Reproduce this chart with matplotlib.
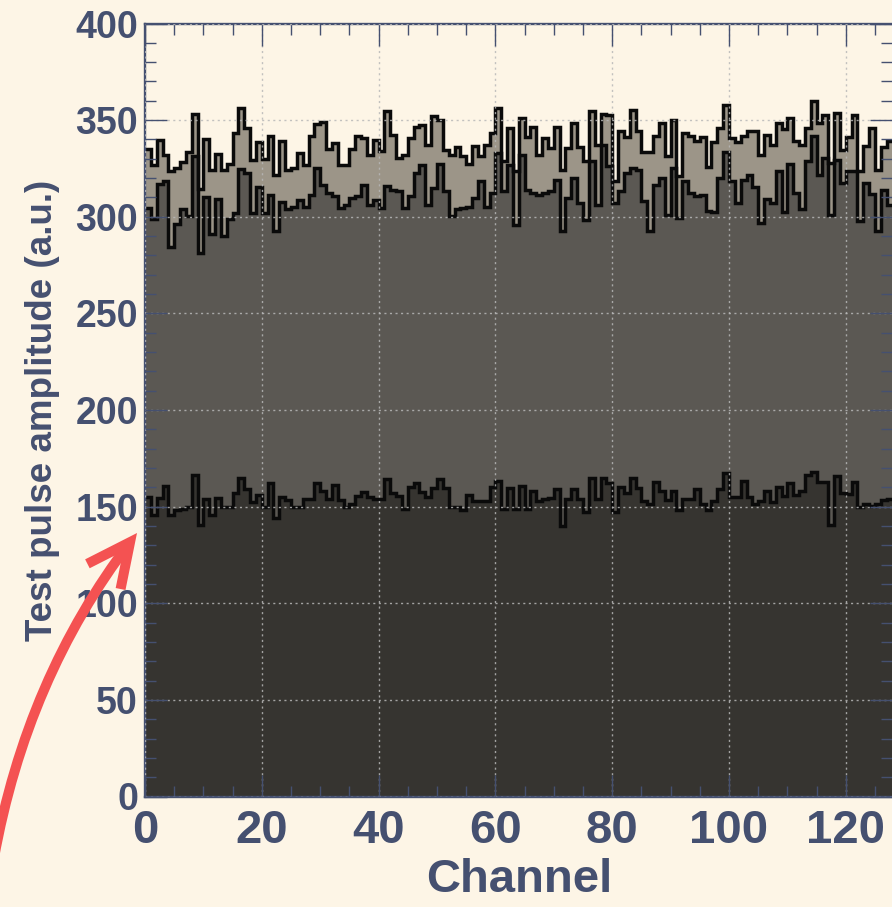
import numpy as np
import matplotlib
matplotlib.use("Agg")
import matplotlib.pyplot as plt
from matplotlib.patches import FancyArrowPatch, ArrowStyle
from matplotlib.ticker import MultipleLocator, FixedLocator

# ---------------- data ----------------
top_amp = [
    334.8, 326.7, 339.6, 331.8, 323.5, 325.3, 328.2, 333.4, 353.4, 314.5,
    340.3, 324.1, 332.7, 324.1, 327.5, 343.4, 356.4, 346.0, 329.2, 338.6,
    330.0, 341.7, 321.8, 339.4, 324.4, 325.3, 333.1, 327.0, 342.0, 348.0,
    349.0, 335.0, 338.0, 327.0, 327.0, 335.0, 342.0, 341.0, 332.0, 339.5,
    334.0, 354.6, 342.5, 330.4, 332.0, 341.0, 346.3, 347.3, 337.0, 352.3,
    350.2, 334.7, 332.0, 335.9, 331.2, 327.3, 336.4, 331.2, 337.3, 343.3,
    356.3, 328.7, 346.0, 323.5, 351.0, 341.1, 346.5, 332.1, 340.7, 335.6,
    346.5, 324.3, 335.6, 348.5, 335.9, 329.0, 354.6, 337.3, 353.4, 352.8,
    318.3, 344.6, 341.1, 355.4, 344.2, 333.5, 333.5, 341.6, 348.5, 331.2,
    350.2, 320.9, 343.3, 341.6, 339.0, 341.1, 325.6, 338.7, 346.0, 357.7,
    340.7, 338.7, 341.6, 344.6, 344.6, 332.1, 342.5, 337.3, 348.5, 345.6,
    351.1, 339.4, 337.3, 345.9, 359.7, 348.5, 352.5, 327.8, 353.7, 334.7,
    341.1, 352.5, 323.5, 336.4, 345.9, 324.3, 335.9, 339.4,
]

mid_amp = [
    304.6, 298.6, 316.7, 318.4, 284.4, 296.0, 304.1, 300.3, 331.3, 281.3,
    310.3, 291.3, 309.2, 290.0, 298.6, 302.1, 324.5, 322.8, 302.1, 315.5,
    302.1, 311.0, 292.5, 307.5, 304.1, 305.1, 308.9, 305.3, 311.4, 325.2,
    316.6, 312.3, 310.5, 304.5, 306.2, 309.7, 310.5, 316.2, 306.2, 308.8,
    304.5, 315.7, 314.0, 313.1, 304.5, 310.5, 322.6, 326.6, 306.2, 314.8,
    327.3, 313.1, 300.2, 304.1, 304.5, 305.3, 309.7, 318.3, 305.3, 312.3,
    333.0, 313.1, 326.9, 295.8, 332.1, 314.0, 312.3, 311.1, 312.3, 313.1,
    319.2, 292.4, 309.7, 320.0, 307.1, 298.4, 328.7, 306.2, 337.3, 326.1,
    307.1, 313.1, 322.6, 325.2, 324.3, 307.9, 292.4, 316.6, 320.0, 301.0,
    325.2, 299.3, 318.3, 312.3, 310.5, 311.4, 302.8, 302.4, 320.0, 333.5,
    318.3, 307.1, 319.2, 321.4, 315.2, 296.7, 309.3, 307.1, 323.5, 302.4,
    327.3, 312.3, 304.1, 328.7, 341.6, 321.8, 330.4, 301.0, 329.5, 317.4,
    323.5, 323.5, 297.6, 317.4, 311.7, 292.4, 314.0, 306.2,
]

low_amp = [
    155.1, 145.9, 154.6, 160.8, 145.9, 148.2, 149.0, 149.9, 166.3, 140.4,
    154.2, 145.6, 154.7, 149.9, 149.9, 156.8, 164.9, 159.1, 152.5, 156.0,
    149.9, 162.0, 143.9, 155.1, 153.4, 149.9, 149.9, 154.2, 154.2, 162.0,
    158.0, 154.2, 161.1, 153.4, 149.9, 151.6, 155.6, 157.7, 155.1, 154.2,
    154.2, 164.2, 157.3, 155.6, 149.0, 160.3, 162.0, 157.7, 155.1, 159.4,
    164.2, 159.4, 149.9, 149.9, 148.2, 156.0, 152.8, 152.8, 152.8, 160.3,
    163.2, 149.0, 159.8, 149.0,
    160.8, 149.0, 158.0, 152.8, 154.2, 154.6, 159.1, 140.1, 154.2, 159.1,
    154.2, 147.0, 164.9, 154.2, 164.9, 162.0, 147.0, 160.3, 156.8, 164.9,
    159.4, 152.8, 151.6, 162.5, 158.0, 153.4, 158.0, 148.2, 154.2, 154.2,
    159.1, 151.6, 148.2, 152.8, 159.1, 167.2, 155.1, 155.1, 163.2, 155.1,
    151.1, 152.8, 158.0, 152.5, 160.3, 155.6, 162.0, 156.0, 158.0, 166.3,
    168.0, 162.5, 162.5, 140.4, 166.0, 156.8, 156.3, 162.5, 149.9, 151.1,
    150.4, 151.1, 153.4, 154.2,
]

x_ticks = [0, 20, 40, 60, 80, 100, 120]
y_ticks = [0, 50, 100, 150, 200, 250, 300, 350, 400]
x_label = "Channel"
y_label = "Test pulse amplitude (a.u.)"

# ---------------- style ----------------
BG = "#fdf5e6"
AXC = "#455070"
FILLS = ["#9c9588", "#5b5853", "#363430"]
EDGE = "#0a0a0a"

plt.rcParams["font.family"] = ["Liberation Sans", "DejaVu Sans"]
plt.rcParams["font.weight"] = "bold"

W, H = 892, 907
fig = plt.figure(figsize=(W / 100, H / 100), dpi=100, facecolor=BG)
ax = fig.add_axes([145 / W, (H - 796.5) / H, 747.5 / W, 773 / H])
ax.set_facecolor(BG)

n = len(top_amp)
edges = np.arange(n + 1)
series = [top_amp, mid_amp, low_amp]
for i, (vals, col) in enumerate(zip(series, FILLS)):
    ax.stairs(vals, edges, fill=True, facecolor=col, edgecolor="none",
              linewidth=0, zorder=1 + 0.1 * i)
for vals in series:
    ax.stairs(vals, edges, baseline=None, edgecolor=EDGE, linewidth=2.5,
              zorder=1.6)

ax.set_xlim(0, n)
ax.set_ylim(0, 400)
ax.xaxis.set_major_locator(FixedLocator(x_ticks))
ax.xaxis.set_minor_locator(MultipleLocator(5))
ax.yaxis.set_major_locator(FixedLocator(y_ticks))
ax.yaxis.set_minor_locator(MultipleLocator(10))

ax.tick_params(which="both", direction="in", top=True, right=True,
               color=AXC, labelcolor=AXC)
ax.tick_params(which="major", length=15.5, width=1.0)
ax.tick_params(which="minor", length=8, width=1.0)
ax.tick_params(axis="x", which="major", labelsize=34, pad=9)
ax.tick_params(axis="y", which="major", labelsize=27, pad=5)

ax.set_axisbelow(False)
ax.grid(True, which="major", color="#b8b8b8", alpha=0.85,
        linestyle=(0, (1.5, 2.5)), linewidth=1.0)

for s in ax.spines.values():
    s.set_color(AXC)
    s.set_linewidth(1.7)
ax.spines["right"].set_visible(False)

ax.set_xlabel(x_label, fontsize=34, color=AXC, fontweight="bold")
ax.xaxis.set_label_coords(0.5, -0.0796)
ax.set_ylabel(y_label, fontsize=26.5, color=AXC, fontweight="bold")
ax.yaxis.set_label_coords(-0.114, 0.5)

# curved red arrow pointing at the lowest band
arrow = FancyArrowPatch(
    (-6 / W, (H - 858) / H), (137 / W, (H - 533) / H),
    transform=fig.transFigure,
    connectionstyle="arc3,rad=-0.12",
    arrowstyle=ArrowStyle("->", head_length=31, head_width=15),
    mutation_scale=1, color="#f45252", linewidth=7.2,
    capstyle="butt", joinstyle="miter", shrinkA=0, shrinkB=0,
    clip_on=False, zorder=10,
)
fig.add_artist(arrow)

fig.savefig("out.png", dpi=100, facecolor=BG)
